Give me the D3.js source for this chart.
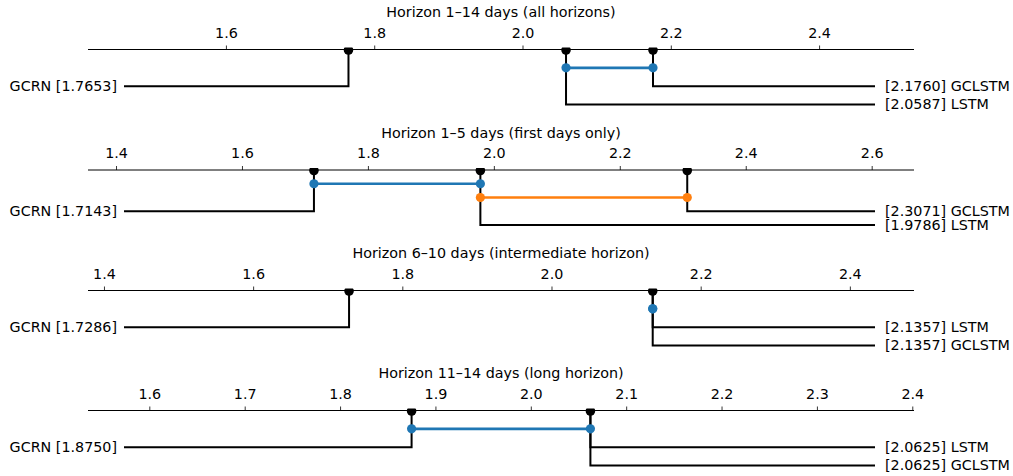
<!DOCTYPE html>
<html>
<head>
<meta charset="utf-8">
<script src="https://cdn.jsdelivr.net/npm/d3@7"></script>
<style>
  html, body { margin: 0; padding: 0; background: #fff; }
  svg { display: block; font-family: "DejaVu Sans", sans-serif; }
</style>
</head>
<body>
<div id="chart"></div>
<script>
// ---- data ----
const panelTitles = [
  "Horizon 1–14 days (all horizons)",
  "Horizon 1–5 days (first days only)",
  "Horizon 6–10 days (intermediate horizon)",
  "Horizon 11–14 days (long horizon)"
];
const leftNames  = [["GCRN"], ["GCRN"], ["GCRN"], ["GCRN"]];
const leftRanks  = [[1.7653], [1.7143], [1.7286], [1.8750]];
const rightNames = [["GCLSTM", "LSTM"], ["GCLSTM", "LSTM"], ["LSTM", "GCLSTM"], ["LSTM", "GCLSTM"]];
const rightRanks = [[2.1760, 2.0587], [2.3071, 1.9786], [2.1357, 2.1357], [2.0625, 2.0625]];
const cliqueStart = [[2.0587], [1.7143, 1.9786], [2.1357], [1.8750]];
const cliqueEnd   = [[2.1760], [1.9786, 2.3071], [2.1357], [2.0625]];
const axisMin = [1.414, 1.3555, 1.3786, 1.5357];
const axisMax = [2.528, 2.6672, 2.486, 2.4018];
const tickValues = [
  [1.6, 1.8, 2.0, 2.2, 2.4],
  [1.4, 1.6, 1.8, 2.0, 2.2, 2.4, 2.6],
  [1.4, 1.6, 1.8, 2.0, 2.2, 2.4],
  [1.6, 1.7, 1.8, 1.9, 2.0, 2.1, 2.2, 2.3, 2.4]
];
const cliqueColors = ["#1f77b4", "#ff7f0e"];

// ---- layout ----
const W = 1013, H = 476;
const x0 = 88, x1 = 914;
const axisYs = [49.5, 170, 290.5, 410.5];
const rowSpan = 55;
const leftLineStart = 124, rightLineEnd = 875;
const leftTextX = 117, rightTextX = 885;
const fs = 14.3;

const svg = d3.select("#chart").append("svg")
  .attr("width", W).attr("height", H);

panelTitles.forEach((title, p) => {
  const ay = axisYs[p];
  const g = svg.append("g");
  const x = d3.scaleLinear().domain([axisMin[p], axisMax[p]]).range([x0, x1]);
  const nC = cliqueStart[p].length;
  const nR = rightNames[p].length;
  const y = d3.scaleLinear().domain([0, nC + nR]).range([ay, ay + rowSpan]);

  const clipId = "clip" + p;
  svg.append("clipPath").attr("id", clipId)
    .append("rect").attr("x", 0).attr("y", ay - 2).attr("width", W).attr("height", 200);

  // title
  g.append("text").attr("x", (x0 + x1) / 2).attr("y", ay - 32.2)
    .attr("text-anchor", "middle").attr("font-size", fs).attr("fill", "#000")
    .text(title);

  // axis
  const axis = d3.axisTop(x).tickValues(tickValues[p]).tickSize(4).tickPadding(8)
    .tickFormat(d3.format(".1f"));
  const ag = g.append("g").attr("transform", `translate(0,${ay})`).call(axis);
  ag.select(".domain").remove();
  ag.selectAll(".tick line").attr("stroke", "#000").attr("stroke-width", 0.8);
  ag.selectAll(".tick text").attr("font-size", fs).attr("fill", "#000")
    .attr("font-family", "DejaVu Sans, sans-serif");
  g.append("line").attr("x1", x0).attr("x2", x1).attr("y1", ay).attr("y2", ay)
    .attr("stroke", "#000").attr("stroke-width", 1);

  // left models
  leftNames[p].forEach((name, i) => {
    const r = leftRanks[p][i];
    const ry = y(nC + 1 + i);
    g.append("path")
      .attr("d", `M${leftLineStart},${ry}H${x(r)}V${ay}`)
      .attr("fill", "none").attr("stroke", "#000").attr("stroke-width", 2);
    g.append("text").attr("x", leftTextX).attr("y", ry).attr("dy", "0.34em")
      .attr("text-anchor", "end").attr("font-size", fs).attr("fill", "#000")
      .text(`${name} [${r.toFixed(4)}]`);
  });

  // right models
  rightNames[p].forEach((name, i) => {
    const r = rightRanks[p][i];
    const ry = y(nC + 1 + i);
    g.append("path")
      .attr("d", `M${rightLineEnd},${ry}H${x(r)}V${ay}`)
      .attr("fill", "none").attr("stroke", "#000").attr("stroke-width", 2);
    g.append("text").attr("x", rightTextX).attr("y", ry).attr("dy", "0.34em")
      .attr("text-anchor", "start").attr("font-size", fs).attr("fill", "#000")
      .text(`[${r.toFixed(4)}] ${name}`);
  });

  // axis markers
  const allRanks = Array.from(new Set(leftRanks[p].concat(rightRanks[p])));
  g.append("g").attr("clip-path", `url(#${clipId})`)
    .selectAll("circle").data(allRanks).join("circle")
    .attr("cx", d => x(d)).attr("cy", ay + 0.5).attr("r", 4.8).attr("fill", "#000");

  // cliques
  cliqueStart[p].forEach((s, i) => {
    const e = cliqueEnd[p][i];
    const cy = y(i + 1);
    const col = cliqueColors[i % cliqueColors.length];
    g.append("line").attr("x1", x(s)).attr("x2", x(e)).attr("y1", cy).attr("y2", cy)
      .attr("stroke", col).attr("stroke-width", 2.6);
    g.selectAll(null).data([s, e]).join("circle")
      .attr("cx", d => x(d)).attr("cy", cy).attr("r", 4.6).attr("fill", col);
  });
});
</script>
</body>
</html>
